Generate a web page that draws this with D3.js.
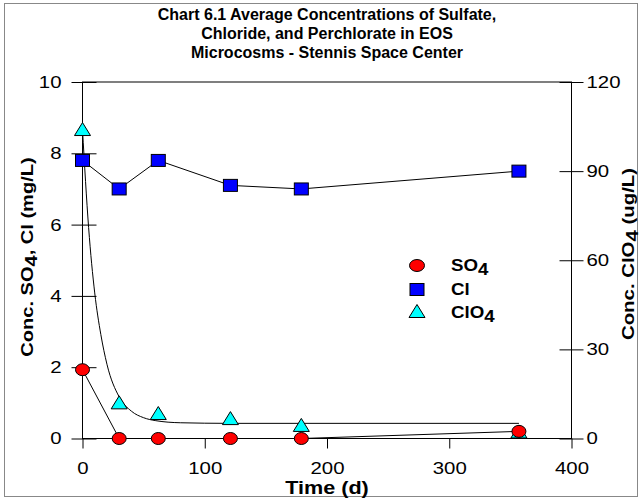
<!DOCTYPE html>
<html>
<head>
<meta charset="utf-8">
<script src="https://cdn.jsdelivr.net/npm/d3@7"></script>
<style>
  body { margin: 0; background: #fff; }
  text { font-family: "Liberation Sans", Arial, sans-serif; }
</style>
</head>
<body>
<div id="chart"></div>
<script>
// ---- data ----
var days = [0, 30, 62, 121, 179, 357];
var so4 = [1.93, 0, 0, 0, 0, 0.2];          // mg/L, left axis
var cl = [7.8, 7.0, 7.8, 7.1, 7.0, 7.5];    // mg/L, left axis
var clo4 = [104, 12, 8.4, 6.7, 4.4, 2.2];   // ug/L, right axis

// fitted decay curve for ClO4
var fitDays = [0, 5, 10, 15, 20, 30, 40, 50, 60, 80, 120, 200, 357];
var fitClo4 = [104, 71, 49, 35, 25, 14, 9.2, 7, 6, 5.3, 5.1, 5.1, 5.1];

var xTicks = [0, 100, 200, 300, 400],
    yTicks = [0, 2, 4, 6, 8, 10],
    y2Ticks = [0, 30, 60, 90, 120];

var titleLines = [
  'Chart 6.1 Average Concentrations of Sulfate,',
  'Chloride, and Perchlorate in EOS',
  'Microcosms - Stennis Space Center'
];

var legendItems = [['SO', '4'], ['Cl', ''], ['ClO', '4']];

// ---- layout ----
var width = 642, height = 500,
    plotL = 82.5, plotR = 571.5, plotT = 82, plotB = 438.5,
    stretch = 1.2; // the original text is a little wider than Arial

var x = d3.scaleLinear().domain([0, 400]).range([plotL, plotR]),
    y = d3.scaleLinear().domain([0, 10]).range([plotB, plotT]),
    y2 = d3.scaleLinear().domain([0, 120]).range([plotB, plotT]);

var svg = d3.select('#chart')
  .append('svg')
    .attr('width', width)
    .attr('height', height);

// outer frame
svg.append('rect')
  .attr('x', 4.5).attr('y', 3.5)
  .attr('width', 633).attr('height', 493)
  .style('fill', 'none')
  .style('stroke', '#888')
  .style('stroke-width', 1);

// title
svg.append('g').selectAll('text')
  .data(titleLines)
  .enter()
    .append('text')
      .attr('x', 327)
      .attr('y', function(d, i) { return 20 + i * 19; })
      .attr('text-anchor', 'middle')
      .style('font-size', '16px')
      .style('font-weight', 'bold')
      .text(function(d) { return d; });

// plot box
svg.append('rect')
  .attr('x', plotL).attr('y', plotT)
  .attr('width', plotR - plotL).attr('height', plotB - plotT)
  .style('fill', 'none')
  .style('stroke', '#000')
  .style('stroke-width', 1);

// axes: no domain line (the box draws it), labels a bit wide
function styleAxis(axis) {
  return function(g) {
    g.call(axis);
    g.select('.domain').remove();
    g.selectAll('.tick line').attr('stroke', '#000');
    g.selectAll('.tick text')
      .style('font-size', '17px')
      .style('font-family', '"Liberation Sans", Arial, sans-serif');
  };
}

var xAxis = svg.append('g')
  .attr('transform', 'translate(0,' + plotB + ')')
  .call(styleAxis(d3.axisBottom(x).tickValues(xTicks).tickSize(10)));
xAxis.selectAll('.tick text')
  .attr('y', 35.5).attr('dy', null)
  .attr('transform', 'scale(' + stretch + ',1)');

var yAxis = svg.append('g')
  .attr('transform', 'translate(' + plotL + ',0)')
  .call(styleAxis(d3.axisLeft(y).tickValues(yTicks).tickSize(11)));
yAxis.selectAll('.tick line').attr('x1', 14);
yAxis.selectAll('.tick text')
  .attr('x', -21 / stretch)
  .attr('transform', 'scale(' + stretch + ',1)');

var y2Axis = svg.append('g')
  .attr('transform', 'translate(' + plotR + ',0)')
  .call(styleAxis(d3.axisRight(y2).tickValues(y2Ticks).tickSize(12)));
y2Axis.selectAll('.tick line').attr('x1', -12);
y2Axis.selectAll('.tick text')
  .attr('x', 15 / stretch)
  .attr('transform', 'scale(' + stretch + ',1)');

// axis titles
function subText(sel, parts) {
  sel.append('tspan').text(parts[0]);
  sel.append('tspan').attr('dy', 4).text(parts[1]);
  sel.append('tspan').attr('dy', -4).text(parts[2]);
}

svg.append('text')
  .attr('transform', 'translate(33,257) rotate(-90) scale(1.18,1)')
  .attr('text-anchor', 'middle')
  .style('font-size', '17px')
  .style('font-weight', 'bold')
  .call(subText, ['Conc. SO', '4', ', Cl (mg/L)']);

svg.append('text')
  .attr('transform', 'translate(634,254) rotate(-90) scale(' + stretch + ',1)')
  .attr('text-anchor', 'middle')
  .style('font-size', '17px')
  .style('font-weight', 'bold')
  .call(subText, ['Conc. ClO', '4', ' (ug/L)']);

svg.append('text')
  .attr('transform', 'translate(' + x(200) + ',494) scale(' + stretch + ',1)')
  .attr('text-anchor', 'middle')
  .style('font-size', '18px')
  .style('font-weight', 'bold')
  .text('Time (d)');

// lines
var lineLeft = d3.line()
  .x(function(d) { return x(d[0]); })
  .y(function(d) { return y(d[1]); });
var lineRight = d3.line()
  .x(function(d) { return x(d[0]); })
  .y(function(d) { return y2(d[1]); })
  .curve(d3.curveMonotoneX);

svg.append('path')
  .datum(days.map(function(d, i) { return [d, so4[i]]; }))
  .attr('d', lineLeft)
  .style('fill', 'none').style('stroke', '#000').style('stroke-width', 1);

svg.append('path')
  .datum(days.map(function(d, i) { return [d, cl[i]]; }))
  .attr('d', lineLeft)
  .style('fill', 'none').style('stroke', '#000').style('stroke-width', 1);

svg.append('path')
  .datum(fitDays.map(function(d, i) { return [d, fitClo4[i]]; }))
  .attr('d', lineRight)
  .style('fill', 'none').style('stroke', '#000').style('stroke-width', 1);

// markers
var triangle = 'M0,-7L8,6L-8,6Z';

svg.append('g').selectAll('path')
  .data(days)
  .enter()
    .append('path')
      .attr('d', triangle)
      .attr('transform', function(d, i) { return 'translate(' + x(d) + ',' + y2(clo4[i]) + ')'; })
      .style('fill', '#00ffff').style('stroke', '#000');

svg.append('g').selectAll('rect')
  .data(days)
  .enter()
    .append('rect')
      .attr('x', function(d) { return x(d) - 7; })
      .attr('y', function(d, i) { return y(cl[i]) - 6; })
      .attr('width', 14).attr('height', 12)
      .style('fill', '#0000ff').style('stroke', '#000');

svg.append('g').selectAll('ellipse')
  .data(days)
  .enter()
    .append('ellipse')
      .attr('cx', function(d) { return x(d); })
      .attr('cy', function(d, i) { return y(so4[i]); })
      .attr('rx', 7).attr('ry', 6)
      .style('fill', '#ff0000').style('stroke', '#000');

// legend
var legend = svg.append('g').attr('transform', 'translate(417,265.5)');
legend.append('ellipse')
  .attr('cx', 0).attr('cy', 0).attr('rx', 7.5).attr('ry', 6)
  .style('fill', '#ff0000').style('stroke', '#000');
legend.append('rect')
  .attr('x', -7).attr('y', 18).attr('width', 14).attr('height', 12)
  .style('fill', '#0000ff').style('stroke', '#000');
legend.append('path')
  .attr('d', triangle)
  .attr('transform', 'translate(0,46)')
  .style('fill', '#00ffff').style('stroke', '#000');

legend.selectAll('text.lab')
  .data(legendItems)
  .enter()
    .append('text')
      .attr('class', 'lab')
      .attr('transform', function(d, i) {
        return 'translate(34,' + (5.5 + i * 23.5) + ') scale(1.1,1)';
      })
      .style('font-size', '17px')
      .style('font-weight', 'bold')
      .each(function(d) {
        var t = d3.select(this);
        t.append('tspan').text(d[0]);
        if (d[1]) t.append('tspan').attr('dy', 4).text(d[1]);
      });
</script>
</body>
</html>
